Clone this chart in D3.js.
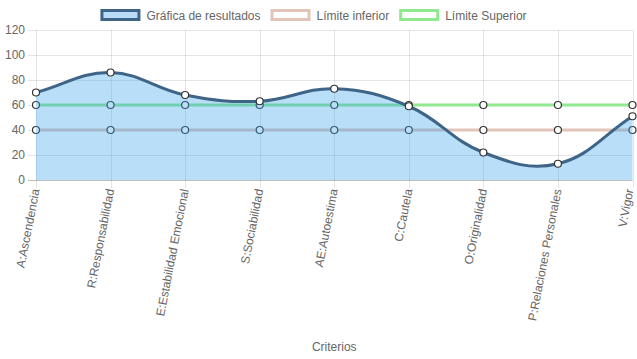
<!DOCTYPE html>
<html>
<head>
<meta charset="utf-8">
<script src="https://cdn.jsdelivr.net/npm/d3@7"></script>
<style>
  html, body { margin: 0; padding: 0; background: #fff; }
  svg { display: block; }
  text { font-family: "Liberation Sans", Arial, Helvetica, sans-serif; fill: #666; }
</style>
</head>
<body>
<svg id="chart" width="637" height="359"></svg>
<script>
// ---- Data ----
const categories = ["A:Ascendencia", "R:Responsabilidad", "E:Estabilidad Emocional", "S:Sociabilidad",
  "AE:Autoestima", "C:Cautela", "O:Originalidad", "P:Relaciones Personales", "V:Vigor"];
const resultados = [70, 86, 68, 63, 73, 59, 22, 13, 51];
const limiteInferior = [40, 40, 40, 40, 40, 40, 40, 40, 40];
const limiteSuperior = [60, 60, 60, 60, 60, 60, 60, 60, 60];
const yTicks = [0, 20, 40, 60, 80, 100, 120];
const seriesNames = ["Gráfica de resultados", "Límite inferior", "Límite Superior"];
const xTitle = "Criterios";

// ---- Layout ----
const W = 637, H = 359;
const plot = { left: 36, right: 632.5, top: 30, bottom: 180 };
const svg = d3.select("#chart");

const x = d3.scalePoint().domain(categories).range([plot.left, plot.right]);
const y = d3.scaleLinear().domain([0, 120]).range([plot.bottom, plot.top]);

const colors = {
  resLine: "rgb(62,100,135)",
  resFill: "rgba(54,162,235,0.35)",
  inf: "rgb(226,196,185)",
  sup: "rgb(144,232,144)",
  pointBorder: "#333"
};

// ---- Grid ----
const grid = svg.append("g");
yTicks.forEach(t => {
  grid.append("line")
    .attr("x1", plot.left - 8).attr("x2", plot.right)
    .attr("y1", Math.round(y(t)) + 0.5).attr("y2", Math.round(y(t)) + 0.5)
    .attr("stroke", t === 0 ? "rgba(0,0,0,0.25)" : "rgba(0,0,0,0.1)")
    .attr("stroke-width", 1);
});
categories.forEach(c => {
  grid.append("line")
    .attr("x1", Math.round(x(c)) + 0.5).attr("x2", Math.round(x(c)) + 0.5)
    .attr("y1", plot.top).attr("y2", plot.bottom + 8)
    .attr("stroke", "rgba(0,0,0,0.1)")
    .attr("stroke-width", 1);
});

// ---- Y axis labels ----
const yAxis = svg.append("g");
yTicks.forEach(t => {
  yAxis.append("text")
    .attr("x", plot.left - 11).attr("y", y(t))
    .attr("dy", "0.35em")
    .attr("text-anchor", "end")
    .attr("font-size", 12)
    .text(t);
});

// ---- X axis labels ----
const xAxis = svg.append("g");
categories.forEach(c => {
  const lbl = xAxis.append("text")
    .attr("transform", `translate(${x(c) - 0.5},${plot.bottom + 9}) rotate(-79)`)
    .attr("text-anchor", "end")
    .attr("dy", "0.35em")
    .attr("font-size", 12)
    .text(c);
  // keep the rotated label inside the picture
  const r = lbl.node().getBoundingClientRect();
  const over = r.right - (W - 0.5);
  if (over > 0) {
    lbl.attr("transform", `translate(${x(c) - 0.5 - over},${plot.bottom + 9}) rotate(-79)`);
  }
});

svg.append("text")
  .attr("x", (plot.left + plot.right) / 2).attr("y", 351)
  .attr("text-anchor", "middle")
  .attr("font-size", 12)
  .text(xTitle);

// ---- Chart.js-like spline ----
function buildPoints(values) {
  const pts = values.map((v, i) => ({ x: x(categories[i]), y: y(v) }));
  const t = 0.4;
  pts.forEach((cur, i) => {
    const prev = i > 0 ? pts[i - 1] : cur;
    const next = i < pts.length - 1 ? pts[i + 1] : cur;
    const d01 = Math.hypot(cur.x - prev.x, cur.y - prev.y);
    const d12 = Math.hypot(next.x - cur.x, next.y - cur.y);
    let s01 = d01 / (d01 + d12), s12 = d12 / (d01 + d12);
    if (isNaN(s01)) s01 = 0;
    if (isNaN(s12)) s12 = 0;
    const fa = t * s01, fb = t * s12;
    const clampX = v => Math.max(plot.left, Math.min(plot.right, v));
    const clampY = v => Math.max(plot.top, Math.min(plot.bottom, v));
    cur.cp1 = { x: clampX(cur.x - fa * (next.x - prev.x)), y: clampY(cur.y - fa * (next.y - prev.y)) };
    cur.cp2 = { x: clampX(cur.x + fb * (next.x - prev.x)), y: clampY(cur.y + fb * (next.y - prev.y)) };
  });
  return pts;
}
function linePath(pts, p) {
  p.moveTo(pts[0].x, pts[0].y);
  for (let i = 1; i < pts.length; i++) {
    const a = pts[i - 1], b = pts[i];
    p.bezierCurveTo(a.cp2.x, a.cp2.y, b.cp1.x, b.cp1.y, b.x, b.y);
  }
  return p;
}

function drawSeries(values, stroke, fill) {
  const pts = buildPoints(values);
  const g = svg.append("g");
  if (fill) {
    const p = linePath(pts, d3.path());
    p.lineTo(pts[pts.length - 1].x, y(0));
    p.lineTo(pts[0].x, y(0));
    p.closePath();
    g.append("path").attr("d", p.toString()).attr("fill", fill).attr("stroke", "none");
  }
  g.append("path").attr("d", linePath(pts, d3.path()).toString())
    .attr("fill", "none").attr("stroke", stroke).attr("stroke-width", 3);
  g.selectAll("circle").data(pts).join("circle")
    .attr("cx", d => d.x).attr("cy", d => d.y).attr("r", 3.5)
    .attr("fill", "#fff").attr("stroke", colors.pointBorder).attr("stroke-width", 1.2);
}

// draw in Chart.js order (last dataset first)
drawSeries(limiteSuperior, colors.sup, null);
drawSeries(limiteInferior, colors.inf, null);
drawSeries(resultados, colors.resLine, colors.resFill);

// ---- Legend ----
const legendItems = [
  { name: seriesNames[0], stroke: colors.resLine, fill: "rgb(185,220,248)" },
  { name: seriesNames[1], stroke: colors.inf, fill: "#fff" },
  { name: seriesNames[2], stroke: colors.sup, fill: "#fff" }
];
const legend = svg.append("g");
const widths = [];
legendItems.forEach((it, i) => {
  const t = legend.append("text").attr("font-size", 12).attr("y", 16).attr("dy", "0.35em").text(it.name);
  it.node = t;
  widths.push(40 + 6 + t.node().getComputedTextLength() + 10);
});
const totalW = d3.sum(widths);
let lx = (W - totalW) / 2;
legendItems.forEach((it, i) => {
  legend.append("rect")
    .attr("x", lx + 1.5).attr("y", 10.5).attr("width", 37).attr("height", 9)
    .attr("fill", it.fill).attr("stroke", it.stroke).attr("stroke-width", 3);
  it.node.attr("x", lx + 46);
  lx += widths[i];
});
</script>
</body>
</html>
